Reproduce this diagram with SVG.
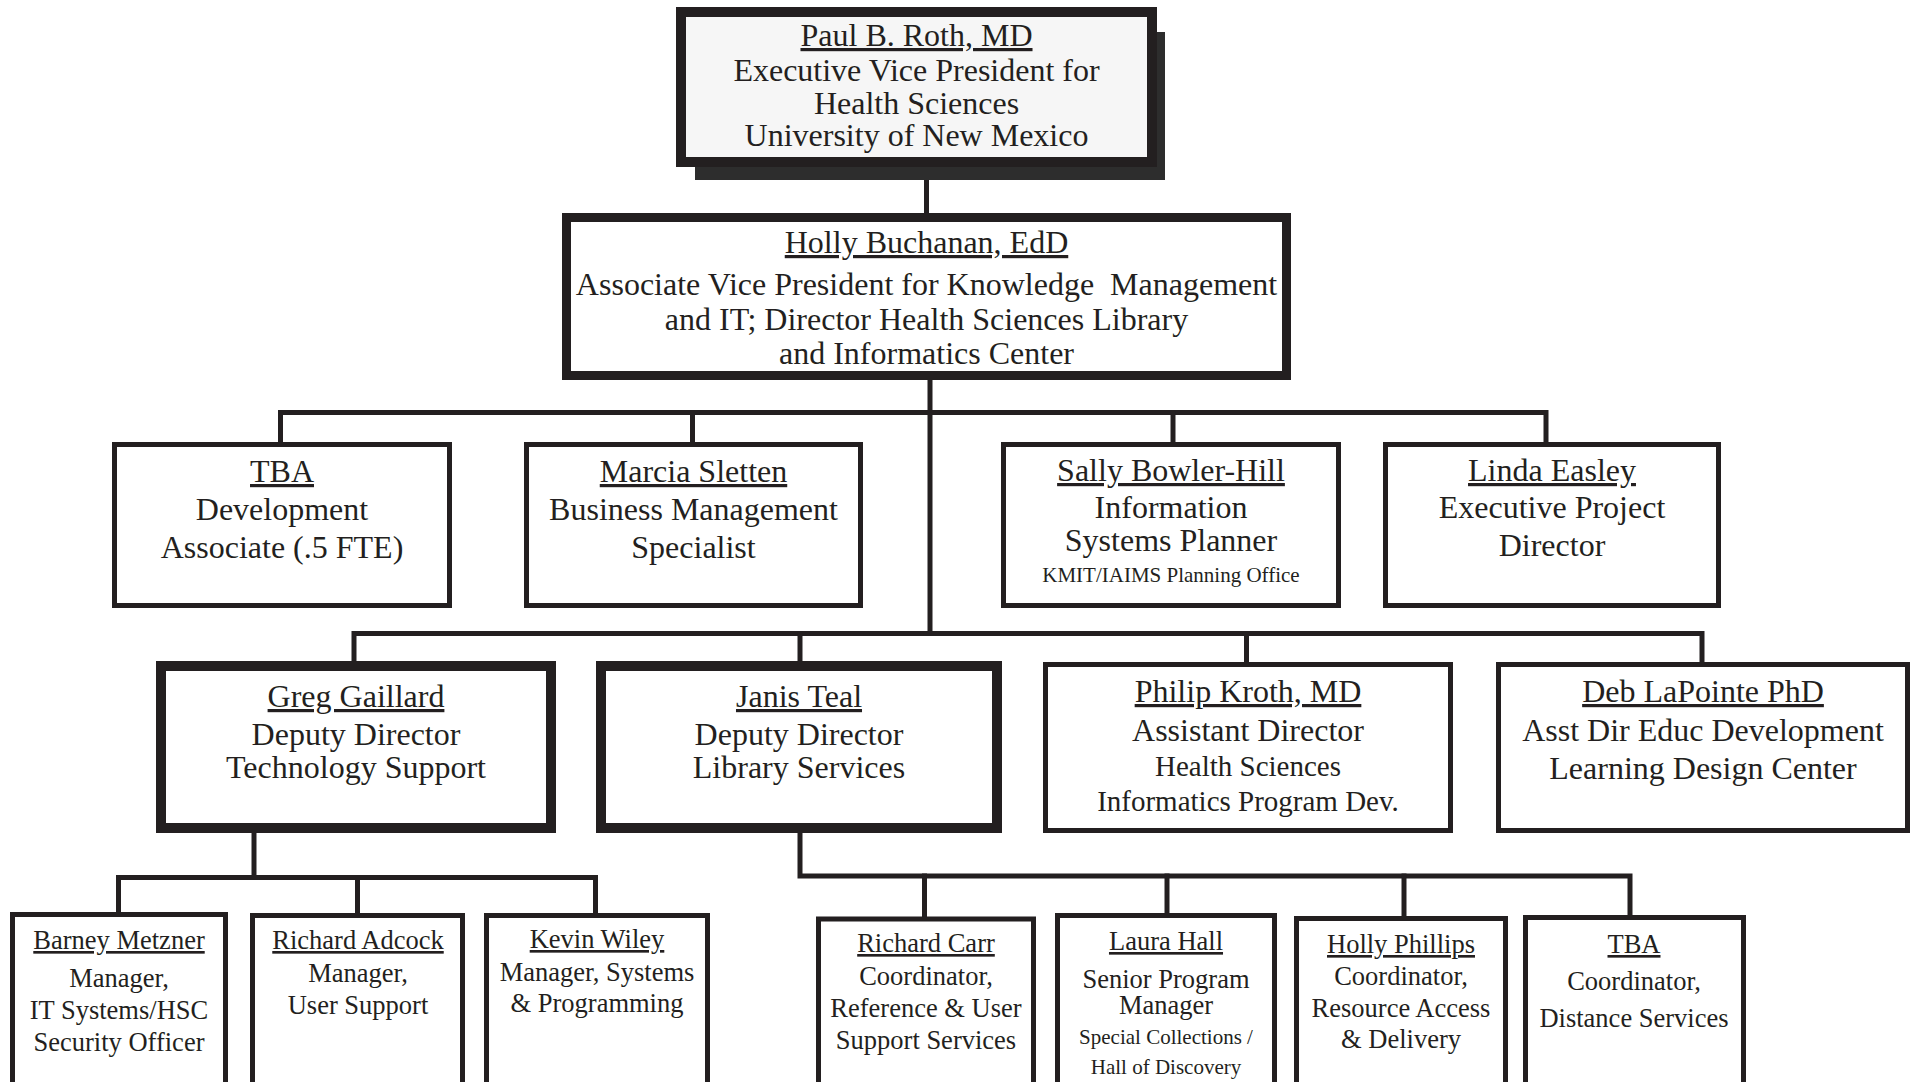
<svg xmlns="http://www.w3.org/2000/svg" width="1912" height="1082" viewBox="0 0 1912 1082">
<style>
  .bg { fill: #ffffff; }
  .box { fill: #ffffff; stroke: #231f20; }
  .thin { stroke-width: 5; }
  .thick { stroke-width: 10; }
  .mid { stroke-width: 9; }
  .conn { fill: none; stroke: #231f20; stroke-width: 5; stroke-linejoin: miter; stroke-linecap: square; }
  text { font-family: "Liberation Serif", "Times New Roman", serif; fill: #231f20; text-anchor: middle; }
  .f32 { font-size: 32px; }
  .f29 { font-size: 29px; }
  .f26 { font-size: 26.5px; }
  .f21 { font-size: 21px; }
  .u { text-decoration: underline; }
</style>
<rect class="bg" x="0" y="0" width="1912" height="1082"/>

<g id="connectors">
  <path class="conn" d="M926.5 167 V213"/>
  <path class="conn" d="M930 380 V633.5"/>
  <path class="conn" d="M280.5 442 V412.5 H1546 V442"/>
  <path class="conn" d="M692.5 412.5 V442"/>
  <path class="conn" d="M1173 412.5 V442"/>
  <path class="conn" d="M354 661 V633.5 H1702 V662"/>
  <path class="conn" d="M800 633.5 V661"/>
  <path class="conn" d="M1246.5 633.5 V662"/>
  <path class="conn" d="M254 833 V877.5"/>
  <path class="conn" d="M118.5 912 V877.5 H595.5 V913"/>
  <path class="conn" d="M357.5 877.5 V913"/>
  <path class="conn" d="M800 833 V876 H1630 V915"/>
  <path class="conn" d="M924.5 876 V917"/>
  <path class="conn" d="M1167 876 V913"/>
  <path class="conn" d="M1404 876 V916"/>
</g>

<g id="node-roth">
  <rect x="695" y="32" width="470" height="148" fill="#2d2d2d"/>
  <rect x="681" y="12" width="471" height="150" fill="#f6f6f6" stroke="#231f20" stroke-width="10"/>
  <text class="f32 u" x="916.5" y="46">Paul B. Roth, MD</text>
  <text class="f32" x="916.5" y="80.5">Executive Vice President for</text>
  <text class="f32" x="916.5" y="113.5">Health Sciences</text>
  <text class="f32" x="916.5" y="145.5">University of New Mexico</text>
</g>

<g id="node-buchanan">
  <rect class="box mid" x="566.5" y="217.5" width="720" height="158"/>
  <text class="f32 u" x="926.5" y="253">Holly Buchanan, EdD</text>
  <text class="f32" x="926.5" y="295" xml:space="preserve">Associate Vice President for Knowledge  Management</text>
  <text class="f32" x="926.5" y="330">and IT; Director Health Sciences Library</text>
  <text class="f32" x="926.5" y="364">and Informatics Center</text>
</g>

<g id="node-tba-dev">
  <rect class="box thin" x="114.5" y="444.5" width="335" height="161"/>
  <text class="f32 u" x="282" y="482">TBA</text>
  <text class="f32" x="282" y="520">Development</text>
  <text class="f32" x="282" y="558">Associate (.5 FTE)</text>
</g>

<g id="node-sletten">
  <rect class="box thin" x="526.5" y="444.5" width="334" height="161"/>
  <text class="f32 u" x="693.5" y="482">Marcia Sletten</text>
  <text class="f32" x="693.5" y="520">Business Management</text>
  <text class="f32" x="693.5" y="558">Specialist</text>
</g>

<g id="node-bowler-hill">
  <rect class="box thin" x="1003.5" y="444.5" width="335" height="161"/>
  <text class="f32 u" x="1171" y="481">Sally Bowler-Hill</text>
  <text class="f32" x="1171" y="518">Information</text>
  <text class="f32" x="1171" y="551">Systems Planner</text>
  <text class="f21" x="1171" y="582">KMIT/IAIMS Planning Office</text>
</g>

<g id="node-easley">
  <rect class="box thin" x="1385.5" y="444.5" width="333" height="161"/>
  <text class="f32 u" x="1552" y="481">Linda Easley</text>
  <text class="f32" x="1552" y="518">Executive Project</text>
  <text class="f32" x="1552" y="556">Director</text>
</g>

<g id="node-gaillard">
  <rect class="box thick" x="161" y="666" width="390" height="162"/>
  <text class="f32 u" x="356" y="707">Greg Gaillard</text>
  <text class="f32" x="356" y="745">Deputy Director</text>
  <text class="f32" x="356" y="778">Technology Support</text>
</g>

<g id="node-teal">
  <rect class="box thick" x="601" y="666" width="396" height="162"/>
  <text class="f32 u" x="799" y="707">Janis Teal</text>
  <text class="f32" x="799" y="745">Deputy Director</text>
  <text class="f32" x="799" y="778">Library Services</text>
</g>

<g id="node-kroth">
  <rect class="box thin" x="1045.5" y="664.5" width="405" height="166"/>
  <text class="f32 u" x="1248" y="702">Philip Kroth, MD</text>
  <text class="f32" x="1248" y="741">Assistant Director</text>
  <text class="f29" x="1248" y="776">Health Sciences</text>
  <text class="f29" x="1248" y="811">Informatics Program Dev.</text>
</g>

<g id="node-lapointe">
  <rect class="box thin" x="1498.5" y="664.5" width="409" height="166"/>
  <text class="f32 u" x="1703" y="702">Deb LaPointe PhD</text>
  <text class="f32" x="1703" y="741">Asst Dir Educ Development</text>
  <text class="f32" x="1703" y="779">Learning Design Center</text>
</g>

<g id="node-metzner">
  <rect class="box thin" x="12.5" y="914.5" width="213" height="200"/>
  <text class="f26 u" x="119" y="949">Barney Metzner</text>
  <text class="f26" x="119" y="987">Manager,</text>
  <text class="f26" x="119" y="1019">IT Systems/HSC</text>
  <text class="f26" x="119" y="1051">Security Officer</text>
</g>

<g id="node-adcock">
  <rect class="box thin" x="252.5" y="915.5" width="210" height="200"/>
  <text class="f26 u" x="358" y="949">Richard Adcock</text>
  <text class="f26" x="358" y="982">Manager,</text>
  <text class="f26" x="358" y="1014">User Support</text>
</g>

<g id="node-wiley">
  <rect class="box thin" x="486.5" y="915.5" width="221" height="200"/>
  <text class="f26 u" x="597" y="948">Kevin Wiley</text>
  <text class="f26" x="597" y="981">Manager, Systems</text>
  <text class="f26" x="597" y="1012">&amp; Programming</text>
</g>

<g id="node-carr">
  <rect class="box thin" x="818.5" y="919" width="215" height="200"/>
  <text class="f26 u" x="926" y="952">Richard Carr</text>
  <text class="f26" x="926" y="985">Coordinator,</text>
  <text class="f26" x="926" y="1017">Reference &amp; User</text>
  <text class="f26" x="926" y="1049">Support Services</text>
</g>

<g id="node-hall">
  <rect class="box thin" x="1057.5" y="915.5" width="217" height="200"/>
  <text class="f26 u" x="1166" y="950">Laura Hall</text>
  <text class="f26" x="1166" y="988">Senior Program</text>
  <text class="f26" x="1166" y="1014">Manager</text>
  <text class="f21" x="1166" y="1044">Special Collections /</text>
  <text class="f21" x="1166" y="1074">Hall of Discovery</text>
</g>

<g id="node-phillips">
  <rect class="box thin" x="1296.5" y="918.5" width="209" height="200"/>
  <text class="f26 u" x="1401" y="953">Holly Phillips</text>
  <text class="f26" x="1401" y="985">Coordinator,</text>
  <text class="f26" x="1401" y="1017">Resource Access</text>
  <text class="f26" x="1401" y="1048">&amp; Delivery</text>
</g>

<g id="node-tba-distance">
  <rect class="box thin" x="1525.5" y="917.5" width="218" height="200"/>
  <text class="f26 u" x="1634" y="953">TBA</text>
  <text class="f26" x="1634" y="990">Coordinator,</text>
  <text class="f26" x="1634" y="1027">Distance Services</text>
</g>
</svg>
